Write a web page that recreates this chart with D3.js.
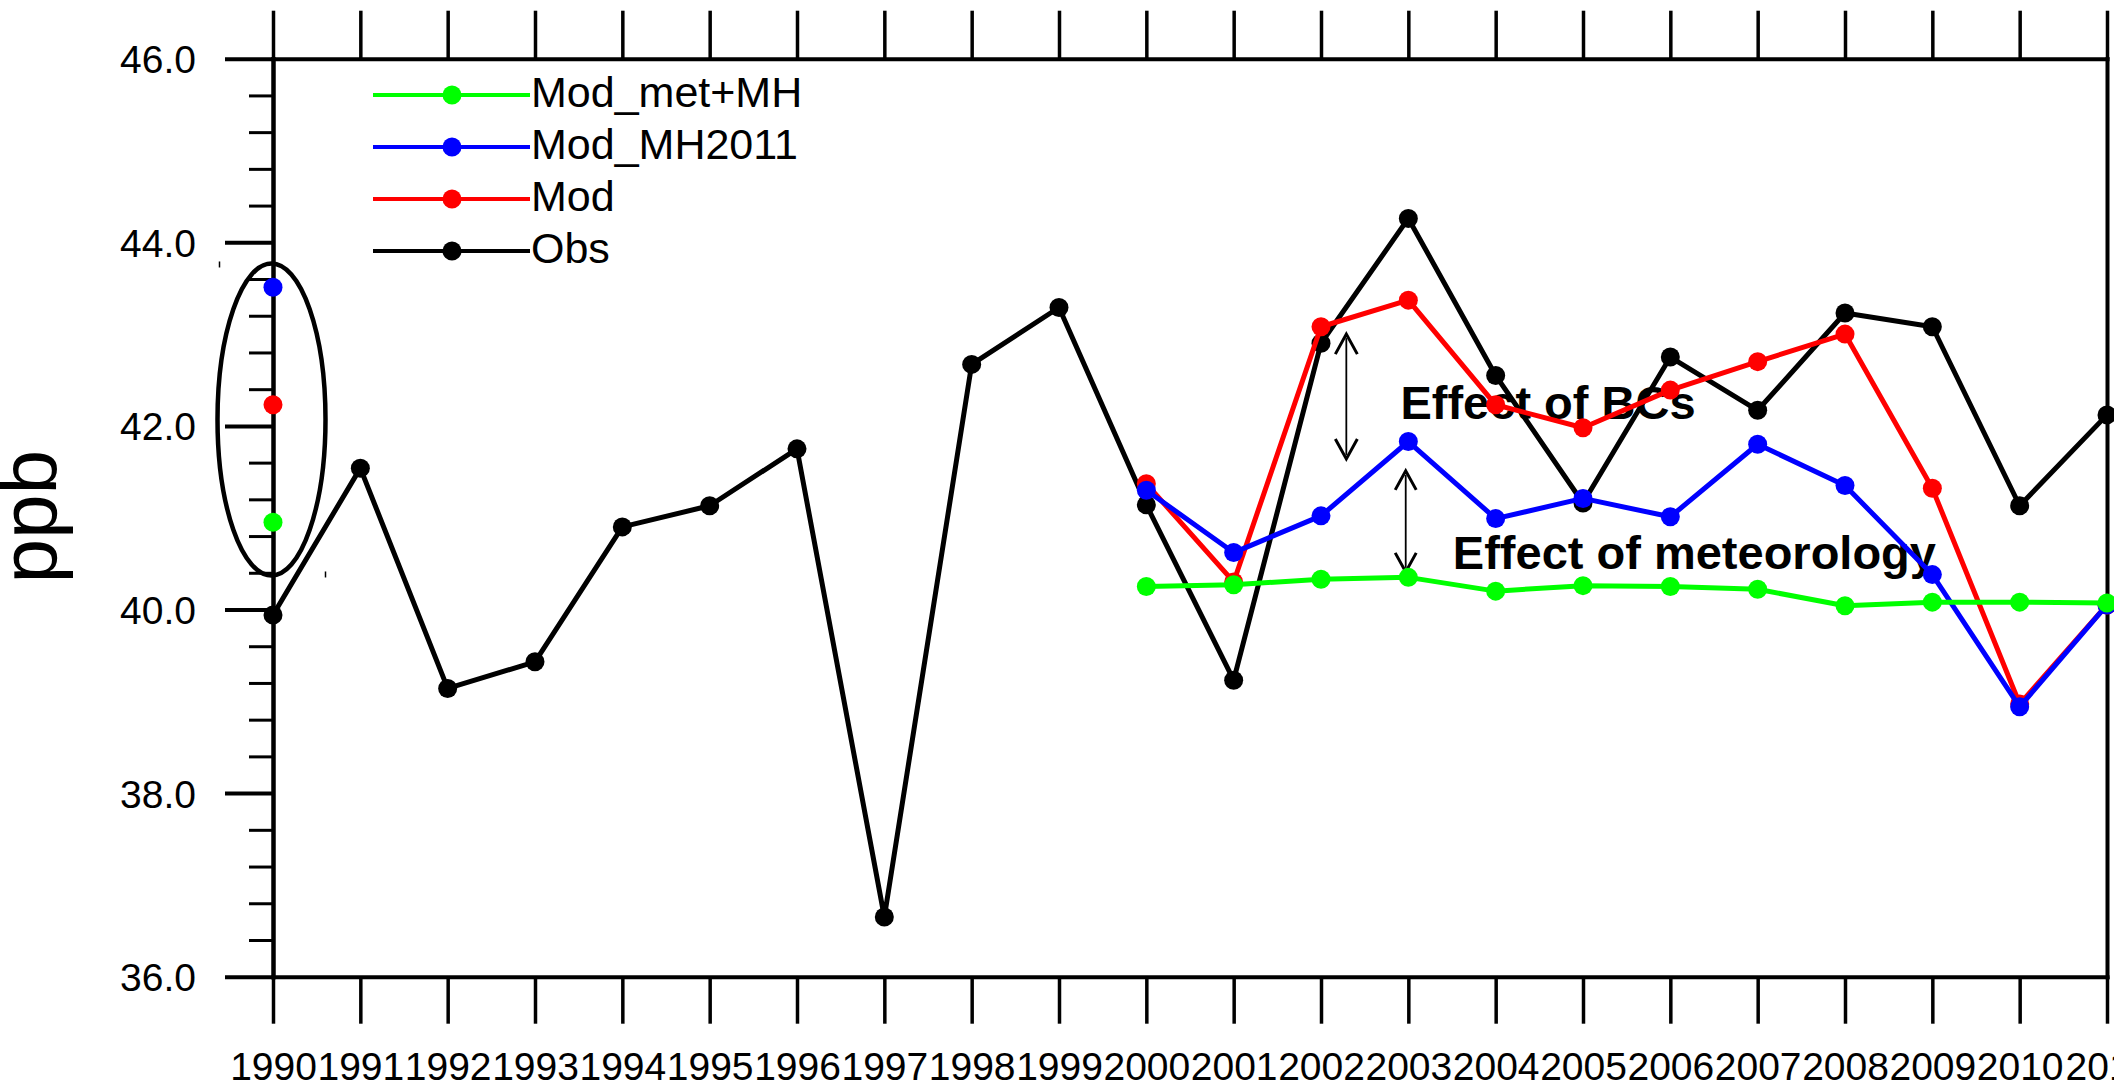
<!DOCTYPE html>
<html>
<head>
<meta charset="utf-8">
<script src="https://cdn.jsdelivr.net/npm/d3@7"></script>
<style>
  html, body { margin: 0; padding: 0; background: #fff; }
  svg { display: block; }
  text { font-family: "Liberation Sans", Arial, Helvetica, sans-serif; fill: #000; }
</style>
</head>
<body>
<svg id="chart" width="2114" height="1091"></svg>
<script>
// Annual ozone (ppb): observations and three model runs
const years = [1990, 1991, 1992, 1993, 1994, 1995, 1996, 1997, 1998, 1999, 2000,
               2001, 2002, 2003, 2004, 2005, 2006, 2007, 2008, 2009, 2010, 2011];

const obs = [39.94, 41.54, 39.14, 39.43, 40.90, 41.13, 41.75, 36.65, 42.67, 43.29, 41.14,
             39.23, 42.90, 44.26, 42.55, 41.16, 42.75, 42.17, 43.23, 43.08, 41.13, 42.12];

const mod = [42.23, null, null, null, null, null, null, null, null, null, 41.37,
             40.30, 43.08, 43.37, 42.23, 41.98, 42.39, 42.70, 43.00, 41.32, 38.97, 40.05];

const modMH2011 = [43.51, null, null, null, null, null, null, null, null, null, 41.30,
                   40.62, 41.02, 41.83, 40.99, 41.21, 41.01, 41.80, 41.35, 40.38, 38.94, 40.05];

const modMetMH = [40.95, null, null, null, null, null, null, null, null, null, 40.25,
                  40.27, 40.33, 40.35, 40.20, 40.26, 40.25, 40.22, 40.04, 40.08, 40.08, 40.07];

const yMajorTicks = [36, 38, 40, 42, 44, 46];
const yMinorTicks = [36.4, 36.8, 37.2, 37.6, 38.4, 38.8, 39.2, 39.6, 40.4, 40.8, 41.2, 41.6,
                     42.4, 42.8, 43.2, 43.6, 44.4, 44.8, 45.2, 45.6];

const seriesNames  = ["Mod_met+MH", "Mod_MH2011", "Mod", "Obs"];
const seriesValues = [modMetMH, modMH2011, mod, obs];
const seriesColors = ["#00ff00", "#0000ff", "#ff0000", "#000000"];

const svg = d3.select("#chart");
svg.append("rect").attr("width", 2114).attr("height", 1091).attr("fill", "#fff");

const x = d3.scaleLinear().domain([1990, 2011]).range([273, 2107]);
const y = d3.scaleLinear().domain([36, 46]).range([976.7, 58.7]);

const plotLeft = x.range()[0], plotRight = x.range()[1];
const plotTop = y.range()[1], plotBottom = y.range()[0];

// ---- axes ----
function styleAxis(g, width) {
  g.selectAll(".domain").attr("stroke", "#000").attr("stroke-width", 4).attr("stroke-linecap", "square");
  g.selectAll(".tick line").attr("stroke", "#000").attr("stroke-width", width);
}

const xBottom = svg.append("g").attr("transform", `translate(0,${plotBottom})`)
  .call(d3.axisBottom(x).tickValues(years).tickSize(47).tickSizeOuter(0).tickFormat(d3.format("d")));
styleAxis(xBottom, 3.5);
xBottom.selectAll("text").attr("y", 103).attr("dy", 0)
  .style("font-size", "39px");

const xTop = svg.append("g").attr("transform", `translate(0,${plotTop})`)
  .call(d3.axisTop(x).tickValues(years).tickSize(48).tickSizeOuter(0).tickFormat(""));
styleAxis(xTop, 3.5);

const yMinor = svg.append("g").attr("transform", `translate(${plotLeft},0)`)
  .call(d3.axisLeft(y).tickValues(yMinorTicks).tickSize(24).tickSizeOuter(0).tickFormat(""));
styleAxis(yMinor, 3);

const yLeft = svg.append("g").attr("transform", `translate(${plotLeft},0)`)
  .call(d3.axisLeft(y).tickValues(yMajorTicks).tickSize(48).tickSizeOuter(0)
    .tickPadding(29).tickFormat(d3.format(".1f")));
styleAxis(yLeft, 4);
yLeft.selectAll("text").attr("dy", "0.36em").style("font-size", "39px");

const yRight = svg.append("g").attr("transform", `translate(${plotRight},0)`)
  .call(d3.axisRight(y).tickValues([]).tickSizeOuter(0));
styleAxis(yRight, 3);

// y-axis title
svg.append("text")
  .attr("transform", `translate(56,${(plotTop + plotBottom) / 2 - 1}) rotate(-90)`)
  .attr("text-anchor", "middle")
  .style("font-size", "80px")
  .text("ppb");

// ---- annotations (drawn beneath the series) ----
const ann = svg.append("g");

// ellipse around the 1990 model values
const ell = { cx: x(1990) - 1.5, cy: y(42.07), rx: 54, ry: 156 };
ann.append("ellipse")
  .attr("cx", ell.cx).attr("cy", ell.cy).attr("rx", ell.rx).attr("ry", ell.ry)
  .attr("fill", "none").attr("stroke", "#000").attr("stroke-width", 4.5);
// small handle marks at the ellipse's bounding-box corners
ann.append("line")
  .attr("x1", ell.cx - ell.rx + 2).attr("x2", ell.cx - ell.rx + 2)
  .attr("y1", ell.cy - ell.ry - 2).attr("y2", ell.cy - ell.ry + 4)
  .attr("stroke", "#000").attr("stroke-width", 1.5);
ann.append("line")
  .attr("x1", ell.cx + ell.rx).attr("x2", ell.cx + ell.rx)
  .attr("y1", ell.cy + ell.ry - 4).attr("y2", ell.cy + ell.ry + 2)
  .attr("stroke", "#000").attr("stroke-width", 1.5);

// double-headed arrows with open chevron heads
function doubleArrow(xv, yTopV, yBotV, halfW, headH) {
  const ax = x(xv), y1 = y(yTopV), y2 = y(yBotV);
  ann.append("line").attr("x1", ax).attr("x2", ax).attr("y1", y1 + 4).attr("y2", y2 - 4)
    .attr("stroke", "#000").attr("stroke-width", 1.8);
  ann.append("path")
    .attr("d", `M${ax - halfW},${y1 + headH} L${ax},${y1} L${ax + halfW},${y1 + headH}`)
    .attr("fill", "none").attr("stroke", "#000").attr("stroke-width", 3);
  ann.append("path")
    .attr("d", `M${ax - halfW},${y2 - headH} L${ax},${y2} L${ax + halfW},${y2 - headH}`)
    .attr("fill", "none").attr("stroke", "#000").attr("stroke-width", 3);
}
doubleArrow(2002.29, 43.00, 41.64, 11, 20);
doubleArrow(2002.97, 41.51, 40.41, 10.5, 19);

ann.append("text")
  .attr("x", x(2002.91)).attr("y", y(42.07))
  .style("font-size", "47px").style("font-weight", "bold")
  .text("Effect of BCs");
ann.append("text")
  .attr("x", x(2003.51)).attr("y", y(40.44))
  .style("font-size", "47px").style("font-weight", "bold")
  .text("Effect of meteorology");

// ---- series (Obs first, Mod_met+MH on top) ----
const line = d3.line()
  .defined(d => d.v !== null)
  .x(d => x(d.year))
  .y(d => y(d.v));

const order = [3, 2, 1, 0];
order.forEach(i => {
  const pts = years.map((yr, k) => ({ year: yr, v: seriesValues[i][k] }));
  const g = svg.append("g");
  g.append("path")
    .datum(pts)
    .attr("d", line)
    .attr("fill", "none")
    .attr("stroke", seriesColors[i])
    .attr("stroke-width", 5)
    .attr("stroke-linejoin", "round");
  g.selectAll("circle")
    .data(pts.filter(d => d.v !== null))
    .join("circle")
    .attr("cx", d => x(d.year))
    .attr("cy", d => y(d.v))
    .attr("r", 9.5)
    .attr("fill", seriesColors[i]);
});

// ---- legend ----
const legendRows = [95, 147, 199, 251];
const legend = svg.append("g");
seriesNames.forEach((name, i) => {
  const ry = legendRows[i];
  legend.append("line")
    .attr("x1", 373).attr("x2", 530).attr("y1", ry).attr("y2", ry)
    .attr("stroke", seriesColors[i]).attr("stroke-width", 4);
  legend.append("circle")
    .attr("cx", 452).attr("cy", ry).attr("r", 9.5)
    .attr("fill", seriesColors[i]);
  legend.append("text")
    .attr("x", 531).attr("y", ry + 12)
    .style("font-size", "43px")
    .text(name);
});
</script>
</body>
</html>
